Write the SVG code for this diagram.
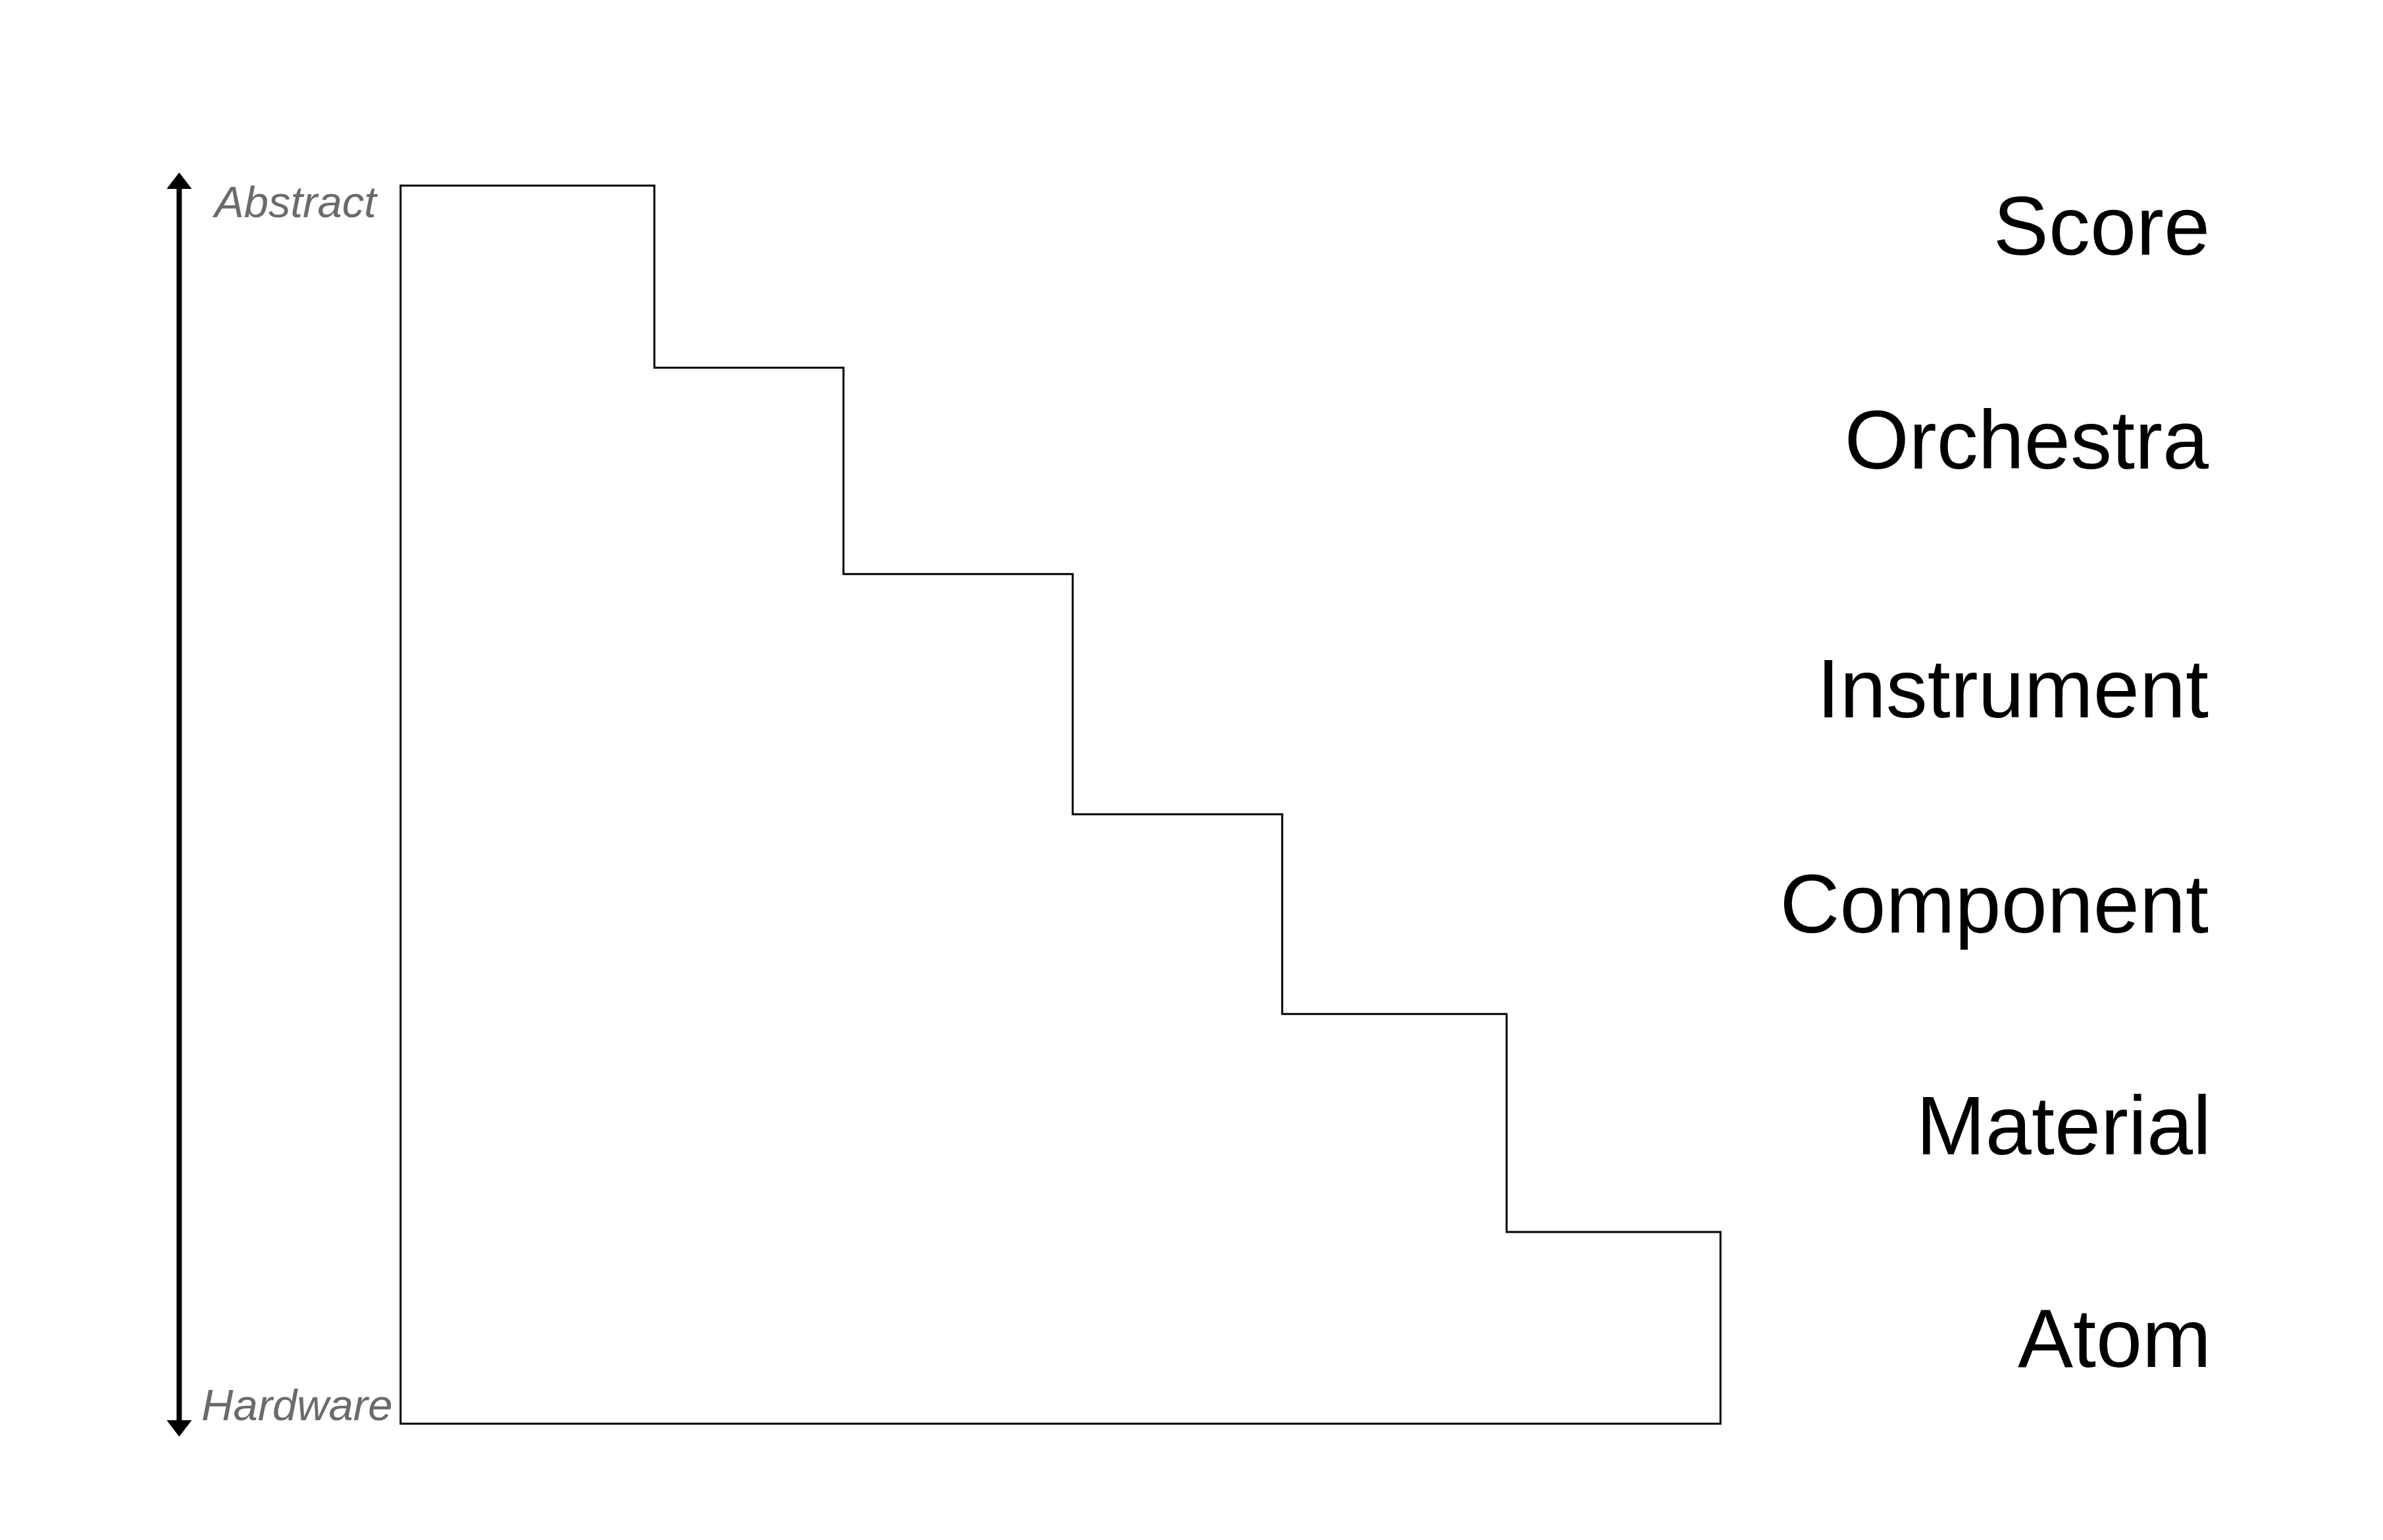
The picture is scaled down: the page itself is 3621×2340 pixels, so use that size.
<svg xmlns="http://www.w3.org/2000/svg" width="3621" height="2340" viewBox="0 0 3621 2340">
  <style>
    .step { fill: none; stroke: #000; stroke-width: 3; stroke-linejoin: miter; }
    .level { font-family: "Liberation Sans", Arial, Helvetica, sans-serif; font-size: 126px; fill: #000; text-anchor: end; }
    .axis-label { font-family: "Liberation Sans", Arial, Helvetica, sans-serif; font-size: 67px; font-style: italic; fill: #6b6b6b; }
    .axis { stroke: #000; stroke-width: 8; fill: none; }
  </style>
  <defs>
    <marker id="head" markerUnits="userSpaceOnUse" markerWidth="25" markerHeight="38" refX="0" refY="19" orient="auto" viewBox="0 0 25 38">
      <polygon points="0,0 25,19 0,38" fill="#000"/>
    </marker>
  </defs>
  <rect width="3621" height="2340" fill="#fff"/>

  <g id="staircase">
    <path class="step" d="M608.7,282 H994.3 V558.7 H1281.7 V872.3 H1630 V1237.3 H1948.3 V1540.7 H2289.3 V1872 H2614.3 V2163.3 H608.7 Z"/>
  </g>

  <g id="connectors">
    <line class="axis" x1="272.3" y1="1200" x2="272.3" y2="287" marker-end="url(#head)"/>
    <line class="axis" x1="272.3" y1="1200" x2="272.3" y2="2158" marker-end="url(#head)"/>
  </g>

  <g id="axis-abstract">
    <text class="axis-label" x="326" y="330">Abstract</text>
  </g>
  <g id="axis-hardware">
    <text class="axis-label" x="306" y="2158">Hardware</text>
  </g>

  <g id="level-score"><text class="level" x="3358" y="387">Score</text></g>
  <g id="level-orchestra"><text class="level" x="3356" y="712">Orchestra</text></g>
  <g id="level-instrument"><text class="level" x="3356" y="1090">Instrument</text></g>
  <g id="level-component"><text class="level" x="3356" y="1417">Component</text></g>
  <g id="level-material"><text class="level" x="3360" y="1754">Material</text></g>
  <g id="level-atom"><text class="level" x="3360" y="2077">Atom</text></g>
</svg>
